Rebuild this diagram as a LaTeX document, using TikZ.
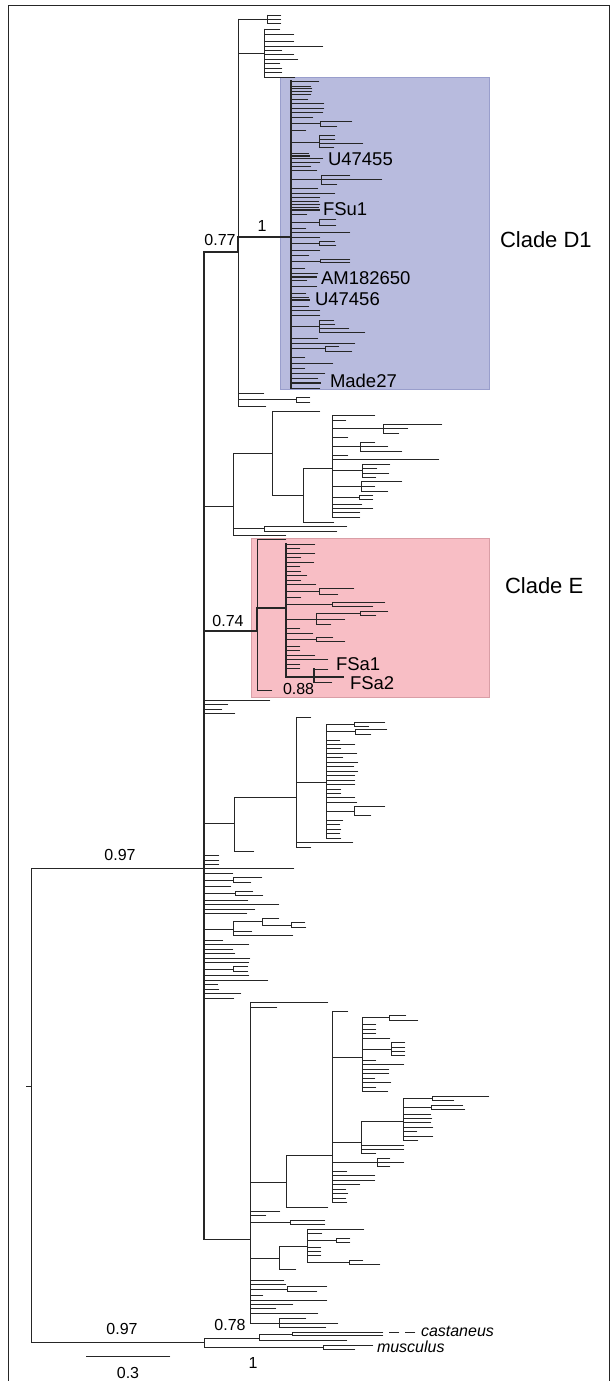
\documentclass[tikz,border=0pt]{standalone}
\usepackage{fontspec}
\setmainfont{Liberation Sans}
\newlength{\du}
\setlength{\du}{1pt}
% one clade: vertical bar at x from y1 to y2, then a branch to x' for each y/x'
\newcommand{\clade}[4]{%
\draw (#1\du,#2\du)--(#1\du,#3\du);
\foreach \cy/\cx in {#4}{\draw (#1\du,\cy\du)--(\cx\du,\cy\du);}%
}
% a heavy segment
\newcommand{\heavy}[4]{\draw[line width=1.8\du] (#1\du,#2\du)--(#3\du,#4\du);}
\tikzset{
  numlbl/.style={inner sep=0pt,outer sep=0pt,font=\fontsize{16}{18}\selectfont},
  seqlbl/.style={anchor=west,inner sep=0pt,outer sep=0pt,font=\fontsize{18.5}{20}\selectfont},
  cladelbl/.style={anchor=west,inner sep=0pt,outer sep=0pt,font=\fontsize{22}{24}\selectfont}
}
\begin{document}
\begin{tikzpicture}[line cap=rect]
\pgftransformxscale{1.000000}
\pgftransformyscale{-1.000000}
\definecolor{dialinecolor}{rgb}{0.150000, 0.150000, 0.150000}
\definecolor{cladeblue}{rgb}{0.722000, 0.733000, 0.871000}
\definecolor{cladeblueline}{rgb}{0.600000, 0.620000, 0.800000}
\definecolor{cladepink}{rgb}{0.973000, 0.745000, 0.773000}
\definecolor{cladepinkline}{rgb}{0.850000, 0.620000, 0.650000}
\useasboundingbox (0\du,0\du) rectangle (611\du,1381\du);
\pgfsetstrokecolor{dialinecolor}
\pgfsetlinewidth{0.900000\du}
% frame
\draw (8.5\du,1381\du)--(8.5\du,5.5\du)--(609\du,5.5\du)--(609\du,1381\du);
% clade boxes
\filldraw[fill=cladeblue,draw=cladeblueline] (280\du,77\du) rectangle (489\du,389\du);
\filldraw[fill=cladepink,draw=cladepinkline] (251\du,538\du) rectangle (489\du,697\du);
% root
\draw (26\du,1086\du)--(31\du,1086\du);
\clade{31}{868}{1342}{868/204, 1342/204}
% backbone
\clade{204}{252}{1239}{506/233, 700/270, 704/228, 709/222, 713/235, 823/234, 855/219, 860/219, 864/219, 868/294, 873/233, 880/233, 886/231, 893/235, 900/248, 904/279, 909/255, 913/247, 929/233, 940/223, 944/249, 949/233, 953/235, 958/250, 962/249, 969/233, 975/249, 980/268, 984/218, 989/219, 993/241, 998/234, 1239/250}
\heavy{204}{252}{204}{1239}
\heavy{204}{252}{238}{252}
% upper group
\clade{238}{19}{406}{19/267, 53/264, 393/264, 399/296, 406/266}
\clade{267}{15}{23}{15/281, 19/281, 23/281}
\clade{264}{29}{77}{29/280, 34/294, 41/294, 46/323, 50/282, 54/294, 59/298, 63/280, 68/282, 72/282, 77/295}
\clade{296}{397}{402}{397/310, 402/310}
\heavy{238}{237}{238}{252}
\heavy{238}{237}{291}{237}
% clade D1
\clade{291}{81}{388}{81/319, 86/311, 88/312, 91/312, 94/311, 99/308, 103/324, 108/324, 112/323, 117/313, 123/320, 130/306, 142/319, 153/309, 156/309, 158/323, 162/320, 166/311, 170/317, 179/321, 188/318, 193/335, 197/320, 201/319, 204/320, 207/319, 210/319, 214/307, 222/319, 228/306, 232/350, 237/320, 243/319, 250/320, 255/309, 261/320, 268/305, 273/318, 277/316, 280/307, 286/317, 293/306, 297/309, 300/309, 306/309, 310/320, 315/320, 326/319, 338/318, 343/355, 348/325, 357/305, 363/333, 368/305, 373/325, 378/318, 383/320, 388/320}
\heavy{291}{81}{291}{388}
\clade{320}{121}{126}{121/352, 126/337}
\clade{319}{135}{147}{135/335, 139/335, 143/363, 147/334}
\clade{321}{175}{184}{175/350, 179/382, 184/337}
\clade{319}{219}{225}{219/336, 225/336}
\clade{319}{241}{245}{241/335, 245/336}
\clade{320}{259}{262}{259/350, 262/350}
\clade{319}{320}{332}{320/334, 324/335, 328/349, 332/365}
\clade{325}{346}{351}{346/339, 351/352}
\heavy{291}{156}{309}{156}
\heavy{291}{210}{319}{210}
\heavy{291}{277}{316}{277}
\heavy{291}{300}{309}{300}
\heavy{291}{383}{320}{383}
% second group
\clade{233}{453}{535}{453/272, 528/264, 535/286}
\clade{272}{411}{495}{411/320, 495/303}
\clade{303}{468}{522}{468/332, 522/334}
\clade{332}{415}{517}{415/375, 420/346, 428/383, 437/348, 446/360, 455/348, 459/439, 470/362, 486/361, 497/359, 504/362, 508/373, 512/360, 517/360}
\clade{383}{424}{433}{424/442, 428/408, 433/399}
\clade{360}{442}{451}{442/375, 446/388, 451/402}
\clade{362}{464}{477}{464/390, 468/377, 473/389, 477/376}
\clade{361}{481}{491}{481/402, 486/375, 491/388}
\clade{359}{495}{499}{495/373, 499/373}
\clade{264}{526}{531}{526/347, 531/337}
% clade E
\clade{257}{539}{690}{539/286, 690/272}
\heavy{204}{631}{257}{631}
\heavy{257}{608}{257}{631}
\heavy{257}{608}{286}{608}
\clade{286}{544}{677}{544/315, 548/300, 553/315, 557/301, 562/314, 566/300, 571/301, 575/307, 580/301, 584/316, 591/319, 597/301, 604/332, 619/316, 628/300, 633/313, 639/316, 646/300, 650/300, 655/315, 659/328, 664/300, 668/300}
\heavy{286}{544}{286}{677}
\clade{319}{588}{594}{588/354, 594/338}
\clade{332}{602}{606}{602/385, 606/373}
\clade{316}{613}{624}{613/360, 619/345, 624/331}
\clade{360}{611}{615}{611/388, 615/376}
\clade{316}{637}{641}{637/333, 641/345}
\clade{314}{669}{682}{669/328, 682/332}
\heavy{286}{677}{343}{677}
\heavy{314}{669}{314}{682}
% third group
\clade{234}{797}{851}{797/296, 851/254}
\clade{296}{717}{847}{717/311, 782/326, 842/353, 847/311}
\clade{326}{724}{838}{724/354, 731/355, 740/340, 744/355, 748/341, 753/357, 757/343, 762/358, 766/354, 771/358, 775/355, 780/355, 784/355, 789/341, 793/341, 797/355, 802/357, 811/354, 820/343, 824/340, 829/341, 833/340, 838/341}
\clade{354}{722}{726}{722/385, 726/369}
\clade{355}{729}{734}{729/387, 734/371}
\clade{354}{806}{815}{806/385, 815/371}
% small clades on the backbone
\clade{233}{877}{882}{877/262, 882/251}
\clade{235}{891}{895}{891/253, 895/263}
\clade{233}{921}{935}{921/262, 931/252, 935/293}
\clade{262}{918}{925}{918/279, 925/291}
\clade{291}{922}{927}{922/305, 927/306}
\clade{233}{966}{971}{966/248, 971/248}
% lower group
\clade{250}{1002}{1323}{1002/328, 1007/277, 1182/286, 1211/280, 1215/266, 1222/290, 1258/279, 1280/284, 1284/286, 1289/287, 1295/263, 1300/327, 1304/293, 1308/276, 1313/318, 1323/279}
\clade{286}{1155}{1207}{1155/332, 1207/328}
\clade{332}{1011}{1202}{1011/348, 1057/362, 1142/361, 1162/377, 1171/347, 1175/375, 1180/375, 1184/360, 1189/346, 1193/348, 1198/346, 1202/347}
\clade{362}{1017}{1091}{1017/389, 1024/376, 1029/376, 1033/376, 1038/390, 1049/391, 1060/376, 1064/404, 1069/389, 1073/389, 1078/375, 1082/391, 1087/376, 1091/388}
\clade{389}{1015}{1020}{1015/406, 1020/418}
\clade{391}{1042}{1055}{1042/405, 1047/405, 1051/405, 1055/405}
\clade{361}{1121}{1153}{1121/403, 1145/404, 1149/404, 1153/376}
\clade{403}{1098}{1140}{1098/432, 1107/431, 1114/431, 1118/432, 1122/431, 1127/433, 1131/417, 1136/433, 1140/418}
\clade{432}{1096}{1100}{1096/489, 1100/454}
\clade{431}{1105}{1109}{1105/463, 1109/465}
\clade{377}{1158}{1166}{1158/390, 1162/404, 1166/390}
\clade{290}{1220}{1224}{1220/325, 1224/325}
\clade{279}{1246}{1269}{1246/307, 1269/296}
\clade{307}{1229}{1262}{1229/364, 1233/322, 1240/336, 1247/321, 1251/321, 1255/321, 1262/349}
\clade{336}{1238}{1242}{1238/350, 1242/350}
\clade{349}{1260}{1264}{1260/363, 1264/380}
\clade{287}{1286}{1291}{1286/327, 1291/317}
\clade{279}{1318}{1327}{1318/306, 1323/338, 1327/326}
% outgroup
\clade{204}{1338}{1347}{1338/259, 1347/323}
\clade{259}{1334}{1340}{1334/292, 1340/347}
\clade{292}{1332}{1335}{1332/383, 1335/383}
\draw[dash pattern=on 10\du off 6\du] (389\du,1332\du)--(416\du,1332\du);
\clade{323}{1345}{1349}{1345/373, 1349/355}
% scale bar
\draw (86\du,1356\du)--(170\du,1356\du);
% labels
\node[numlbl] (supUp) at (120\du,855\du) {0.97};
\node[numlbl] (supDown) at (122\du,1329\du) {0.97};
\node[numlbl] (supOut) at (230\du,1325\du) {0.78};
\node[numlbl] (supMus) at (253\du,1363\du) {1};
\node[numlbl] (scaleval) at (128\du,1373\du) {0.3};
\node[numlbl] (supD) at (220\du,240\du) {0.77};
\node[numlbl] (supDone) at (262\du,226\du) {1};
\node[numlbl] (supE) at (228\du,621\du) {0.74};
\node[numlbl,anchor=west] (supFSa) at (283\du,689\du) {0.88};
\node[seqlbl] (seqUa) at (328\du,159\du) {U47455};
\node[seqlbl] (seqFSu) at (323\du,209\du) {FSu1};
\node[seqlbl] (seqAM) at (321\du,278\du) {AM182650};
\node[seqlbl] (seqUb) at (315\du,299\du) {U47456};
\node[seqlbl] (seqMade) at (330\du,381\du) {Made27};
\node[seqlbl] (seqFSaa) at (336\du,664\du) {FSa1};
\node[seqlbl] (seqFSab) at (350\du,683\du) {FSa2};
\node[numlbl,anchor=west,font=\fontsize{16}{18}\selectfont\itshape] (spCast) at (421\du,1331\du) {castaneus};
\node[numlbl,anchor=west,font=\fontsize{16}{18}\selectfont\itshape] (spMus) at (377\du,1347\du) {musculus};
\node[cladelbl] (cladeD) at (500\du,240\du) {Clade D1};
\node[cladelbl] (cladeE) at (505\du,586\du) {Clade E};
\end{tikzpicture}
\end{document}
